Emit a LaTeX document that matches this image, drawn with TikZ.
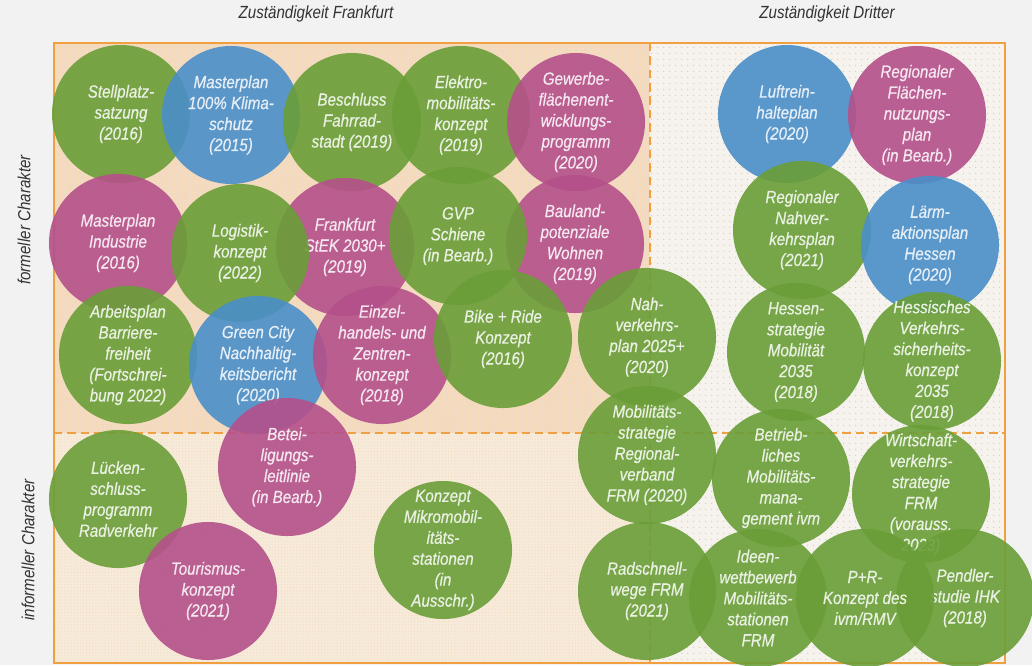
\documentclass[tikz,border=0pt]{standalone}
\usepackage{fontspec}
\setmainfont{Liberation Sans}[FakeStretch=0.86]
\newfontfamily\planfont{Liberation Sans}[FakeStretch=0.86, FakeBold=0.6]
\usetikzlibrary{patterns.meta}

\definecolor{grn}{HTML}{6A9E38}
\definecolor{blu}{HTML}{4A8FC9}
\definecolor{mag}{HTML}{B4508A}
\definecolor{frameor}{HTML}{F0A040}
\definecolor{bggray}{HTML}{F2F2F2}
\definecolor{labgray}{HTML}{333333}
\definecolor{peachA}{HTML}{F3DCC4}
\definecolor{peachB}{HTML}{F6EADB}
\definecolor{creme}{HTML}{F6F3EE}

\begin{document}
\begin{tikzpicture}[x=0.025cm, y=-0.025cm,
  plan/.style={circle, fill=#1, fill opacity=.9, text opacity=1, text=white!86!#1,
    minimum size=3.45cm, inner sep=-1cm, align=center,
    font=\planfont\itshape\fontsize{12.5}{14.9}\selectfont},
  side/.style={font=\itshape\fontsize{12.5}{15}\selectfont, text=labgray},
  sep/.style={frameor, line width=1.9pt, dash pattern=on 6pt off 3.5pt}]
  \useasboundingbox[fill=bggray] (0,0) rectangle (1032,665);
  % fields
  \fill[peachA, postaction={pattern={Dots[distance=1.8pt, radius=.45pt]}, pattern color=frameor!45}] (54,43) rectangle (650,433);
  \fill[peachB, postaction={pattern={Dots[distance=2.2pt, radius=.4pt]}, pattern color=frameor!40}] (54,433) rectangle (650,663);
  \fill[creme, postaction={pattern={Dots[distance=4pt, radius=.5pt]}, pattern color=frameor!60}] (650,43) rectangle (1005,663);
  \coordinate (vtop) at (650,43); \coordinate (vbot) at (650,663);
  \coordinate (hl) at (54,433); \coordinate (hr) at (1005,433);
  \draw[sep] (vtop) -- (vbot); \draw[sep] (hl) -- (hr);
  \draw[frameor, line width=1.9pt] (54,43) rectangle (1005,663);
  % axis labels
  \node[side] (zf) at (316,14) {Zuständigkeit Frankfurt};
  \node[side] (zd) at (827,14) {Zuständigkeit Dritter};
  \node[side, rotate=90] (fc) at (24,220) {formeller Charakter};
  \node[side, rotate=90] (ic) at (28,550) {informeller Charakter};
  % Frankfurt, formell
  \node[plan=grn] (stell) at (121,114) {Stellplatz-\\satzung\\(2016)};
  \node[plan=blu] (klima) at (231,115) {Masterplan\\100\% Klima-\\schutz\\(2015)};
  \node[plan=grn] (fahrrad) at (352,122) {Beschluss\\Fahrrad-\\stadt (2019)};
  \node[plan=grn] (emob) at (461,115) {Elektro-\\mobilitäts-\\konzept\\(2019)};
  \node[plan=mag] (gewerbe) at (576,122) {Gewerbe-\\flächenent-\\wicklungs-\\programm\\(2020)};
  \node[plan=mag] (industrie) at (118,243) {Masterplan\\Industrie\\(2016)};
  \node[plan=mag] (stek) at (345,247) {Frankfurt\\StEK 2030+\\(2019)};
  \node[plan=grn] (logistik) at (240,253) {Logistik-\\konzept\\(2022)};
  \node[plan=mag] (bauland) at (575,244) {Bauland-\\potenziale\\Wohnen\\(2019)};
  \node[plan=grn] (gvp) at (458,236) {GVP\\Schiene\\(in Bearb.)};
  \node[plan=grn] (barriere) at (128,355) {Arbeitsplan\\Barriere-\\freiheit\\(Fortschrei-\\bung 2022)};
  \node[plan=blu] (greencity) at (258,365) {Green City\\Nachhaltig-\\keitsbericht\\(2020)};
  \node[plan=mag] (einzel) at (382,355) {Einzel-\\handels- und\\Zentren-\\konzept\\(2018)};
  \node[plan=grn] (bikeride) at (503,339) {Bike + Ride\\Konzept\\(2016)};
  \node[plan=grn] (nvp) at (647,337) {Nah-\\verkehrs-\\plan 2025+\\(2020)};
  % Frankfurt, informell
  \node[plan=mag] (beteil) at (287,467) {Betei-\\ligungs-\\leitlinie\\(in Bearb.)};
  \node[plan=grn] (luecken) at (118,499) {Lücken-\\schluss-\\programm\\Radverkehr};
  \node[plan=mag] (tourismus) at (208,591) {Tourismus-\\konzept\\(2021)};
  \node[plan=grn] (mikro) at (443,550) {Konzept\\Mikromobil-\\itäts-\\stationen\\(in\\Ausschr.)};
  % Dritte, formell
  \node[plan=blu] (luft) at (787,114) {Luftrein-\\halteplan\\(2020)};
  \node[plan=mag] (rfnp) at (917,115) {Regionaler\\Flächen-\\nutzungs-\\plan\\(in Bearb.)};
  \node[plan=grn] (rnvp) at (802,230) {Regionaler\\Nahver-\\kehrsplan\\(2021)};
  \node[plan=blu] (laerm) at (930,245) {Lärm-\\aktionsplan\\Hessen\\(2020)};
  \node[plan=grn] (hessen) at (796,352) {Hessen-\\strategie\\Mobilität\\2035\\(2018)};
  \node[plan=grn] (hvsk) at (932,361) {Hessisches\\Verkehrs-\\sicherheits-\\konzept\\2035\\(2018)};
  % Dritte, informell
  \node[plan=grn] (mobstrat) at (647,455) {Mobilitäts-\\strategie\\Regional-\\verband\\FRM (2020)};
  \node[plan=grn] (bmm) at (781,478) {Betrieb-\\liches\\Mobilitäts-\\mana-\\gement ivm};
  \node[plan=grn] (wirtschaft) at (921,494) {Wirtschaft-\\verkehrs-\\strategie\\FRM\\(vorauss.\\2023)};
  \node[plan=grn] (radschnell) at (647,591) {Radschnell-\\wege FRM\\(2021)};
  \node[plan=grn] (ideen) at (758,598) {Ideen-\\wettbewerb\\Mobilitäts-\\stationen\\FRM};
  \node[plan=grn] (pendler) at (965,598) {Pendler-\\studie IHK\\(2018)};
  \node[plan=grn] (pr) at (865,598) {P+R-\\Konzept des\\ivm/RMV};
\end{tikzpicture}
\end{document}
